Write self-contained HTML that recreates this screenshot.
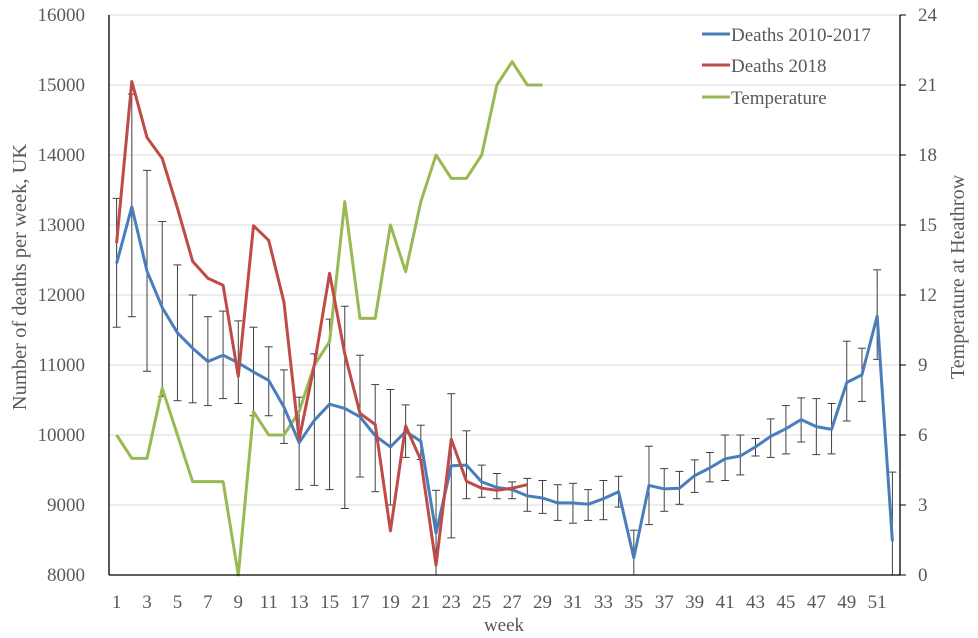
<!DOCTYPE html>
<html><head><meta charset="utf-8"><style>
html,body{margin:0;padding:0;background:#fff}
svg{display:block;font-family:"Liberation Serif",serif}
</style></head><body>
<svg id="chart" width="978" height="638" viewBox="0 0 978 638">
<g id="grid"></g>
<g id="errs"></g>
<g id="series"></g>
<g id="axes"></g>
<text x="26" y="277" transform="rotate(-90 26 277)" text-anchor="middle" font-size="20.5" fill="#595959">Number of deaths per week, UK</text>
<text x="964" y="277" transform="rotate(-90 964 277)" text-anchor="middle" font-size="20" fill="#595959">Temperature  at Heathrow</text>
<text x="504" y="631" text-anchor="middle" font-size="19" fill="#595959">week</text>
<g>
<g><line x1="702" y1="34" x2="730" y2="34" stroke="#4a7ebb" stroke-width="3"/><text x="731" y="41" font-size="19" fill="#595959">Deaths 2010-2017</text></g>
<g><line x1="702" y1="65" x2="730" y2="65" stroke="#be4b48" stroke-width="3"/><text x="731" y="72" font-size="19" fill="#595959">Deaths 2018</text></g>
<g><line x1="702" y1="97" x2="730" y2="97" stroke="#98b954" stroke-width="3"/><text x="731" y="104" font-size="19" fill="#595959">Temperature</text></g>
</g>
</svg>
<script>
const weeks = Array.from({length:52},(_,i)=>i+1);
const deathsAvg = [12450,13260,12340,11820,11460,11240,11050,11140,11030,10900,10780,10400,9890,10210,10440,10380,10260,9990,9830,10050,9910,8600,9560,9570,9330,9250,9220,9130,9100,9030,9030,9010,9090,9190,8245,9280,9230,9240,9420,9530,9660,9700,9830,9980,10090,10220,10120,10080,10750,10860,11700,8480];
const errHigh = [13380,14870,13780,13050,12430,12000,11690,11770,11630,11540,11260,10930,10540,11160,11655,11840,11140,10720,10650,10430,10140,9210,10590,10060,9570,9450,9330,9380,9350,9290,9310,9220,9350,9410,8640,9840,9520,9480,9645,9750,10000,10000,9950,10230,10420,10530,10520,10450,11340,11240,12360,9470];
const errLow = [11540,11690,10910,10550,10490,10460,10420,10520,10450,10275,10275,9880,9220,9280,9220,8950,9400,9190,9000,9680,9650,8000,8530,9090,9110,9090,9090,8910,8880,8780,8740,8780,8790,8970,8000,8720,8910,9010,9180,9330,9350,9430,9700,9680,9730,9900,9720,9730,10200,10480,11080,8000];
const deaths2018 = [12740,15050,14250,13950,13240,12480,12240,12140,10840,12990,12780,11900,9940,11000,12310,11160,10310,10150,8630,10130,9640,8140,9940,9340,9240,9210,9240,9290];
const temperature = [6,5,5,8,6,4,4,4,0,7,6,6,7,9,10,16,11,11,15,13,16,18,17,17,18,21,22,21,21];
const yTicks = [8000,9000,10000,11000,12000,13000,14000,15000,16000];
const y2Ticks = [0,3,6,9,12,15,18,21,24];

const L=109,R=900,T=15,B=575,NS='http://www.w3.org/2000/svg';
const x = w => L+(w-0.5)*(R-L)/52;
const y = v => B-(v-8000)/8000*(B-T);
const y2 = t => B-t/24*(B-T);
function el(tag,attrs,parent,text){const e=document.createElementNS(NS,tag);for(const k in attrs)e.setAttribute(k,attrs[k]);if(text!==undefined)e.textContent=text;parent.appendChild(e);return e;}
const grid=document.getElementById('grid'),axes=document.getElementById('axes'),errs=document.getElementById('errs'),series=document.getElementById('series');
yTicks.forEach(v=>{
  if(v>8000){const g=el('line',{x1:L,x2:R,y1:y(v),y2:y(v),stroke:'#d9d9d9','stroke-width':1},grid);
  
  }
  const t=el('text',{x:85,y:y(v)+6,'text-anchor':'end','font-size':19,fill:'#595959'},axes,String(v));
  
  
});
y2Ticks.forEach(v=>{
  el('line',{x1:R,x2:R+6,y1:y2(v),y2:y2(v),stroke:'#000'},axes);
  const t=el('text',{x:918,y:y2(v)+6,'font-size':19,fill:'#595959'},axes,String(v));
  
  
});
weeks.forEach(w=>{ if(w%2===1){
  const t=el('text',{x:x(w),y:608,'text-anchor':'middle','font-size':19,fill:'#595959'},axes,String(w));
  
  }});
el('line',{x1:L,x2:L,y1:T,y2:B,stroke:'#000','stroke-width':1.3},axes);
el('line',{x1:R,x2:R,y1:T,y2:B,stroke:'#000','stroke-width':1.3},axes);
el('line',{x1:L,x2:R,y1:B,y2:B,stroke:'#000','stroke-width':1.3},axes);
weeks.forEach((w,i)=>{
  const g=el('g',{stroke:'#404040','stroke-width':1},errs);
  
  
  el('line',{x1:x(w),x2:x(w),y1:y(errHigh[i]),y2:y(errLow[i])},g);
  el('line',{x1:x(w)-4,x2:x(w)+4,y1:y(errHigh[i]),y2:y(errHigh[i])},g);
  el('line',{x1:x(w)-4,x2:x(w)+4,y1:y(errLow[i]),y2:y(errLow[i])},g);
});
function line(vals,fy,color,name){
  const p=el('polyline',{points:vals.map((v,i)=>x(i+1)+','+fy(v)).join(' '),fill:'none',stroke:color,'stroke-width':3,'stroke-linejoin':'round'},series);
  
  
}
line(temperature,y2,'#98b954','temperature-line');
line(deathsAvg,y,'#4a7ebb','deaths-2010-2017-line');
line(deaths2018,y,'#be4b48','deaths-2018-line');
</script>
</body></html>
